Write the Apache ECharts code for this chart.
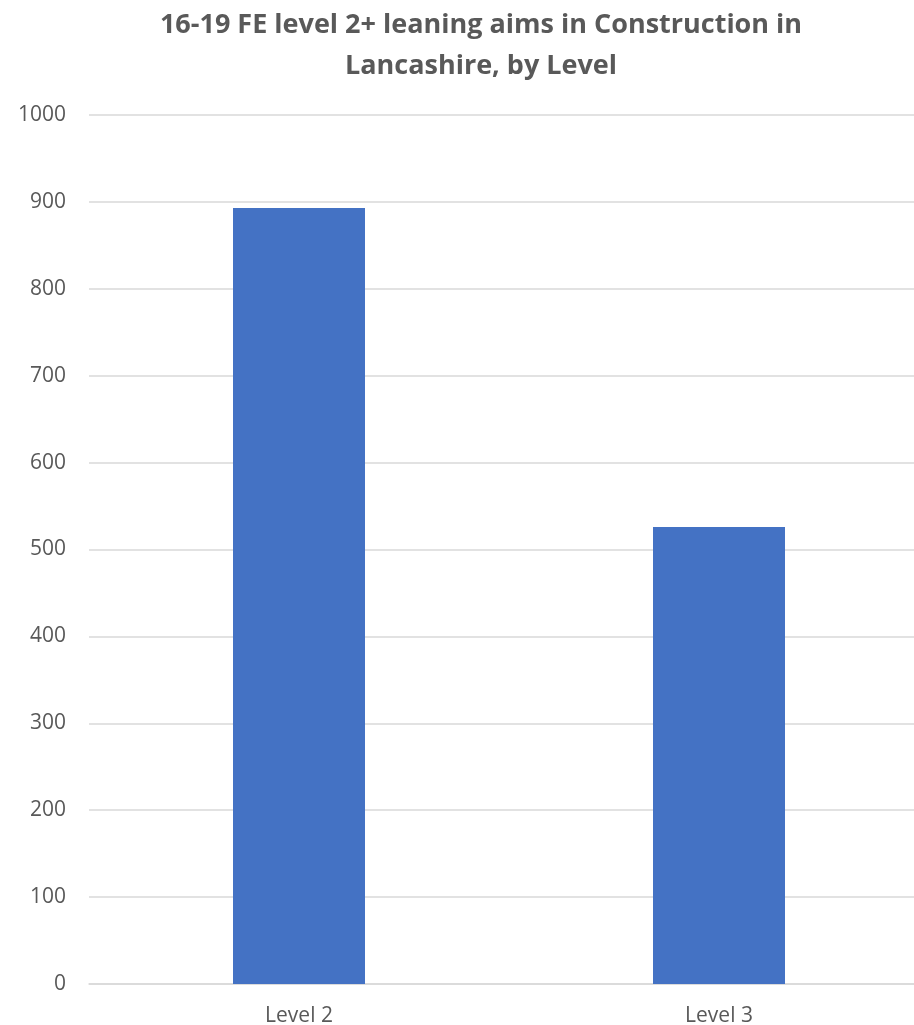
<!DOCTYPE html>
<html>
<head>
<meta charset="utf-8">
<script src="https://cdn.jsdelivr.net/npm/echarts@6/dist/echarts.min.js"></script>
<style>
html,body{margin:0;padding:0;background:#fff;overflow:hidden;}
#chart{width:914px;height:1025px;}
</style>
</head>
<body>
<div id="chart"></div>
<script>
const titleText = "16-19 FE level 2+ leaning aims in Construction in\nLancashire, by Level";
const categories = ["Level 2", "Level 3"];
const values = [893, 526];
const yMin = 0, yMax = 1000, yInterval = 100;

const chart = echarts.init(document.getElementById('chart'));
chart.setOption({
  animation: false,
  backgroundColor: '#ffffff',
  title: {
    text: titleText,
    left: 481,
    textAlign: 'center',
    top: 5,
    padding: 0,
    textStyle: {
      fontFamily: 'Open Sans',
      fontWeight: 'bold',
      fontSize: 27,
      color: '#595959',
      lineHeight: 41
    }
  },
  grid: { left: 89, width: 840, top: 115, bottom: 41, containLabel: false, outerBoundsMode: 'none' },
  xAxis: {
    type: 'category',
    data: categories,
    axisLine: { show: true, lineStyle: { color: '#d9d9d9', width: 1.5 } },
    axisTick: { show: false },
    axisLabel: { color: '#595959', fontSize: 21, fontFamily: 'Open Sans', margin: 22 },
    splitLine: { show: false }
  },
  yAxis: {
    type: 'value',
    min: yMin, max: yMax, interval: yInterval,
    axisLine: { show: false },
    axisTick: { show: false },
    axisLabel: { color: '#595959', fontSize: 21, fontFamily: 'Open Sans', margin: 23, formatter: v => String(v) },
    splitLine: { lineStyle: { color: '#d9d9d9', width: 1.5 } }
  },
  series: [{
    type: 'bar',
    data: values,
    barWidth: 132,
    itemStyle: { color: '#4472c4' }
  }]
});
</script>
</body>
</html>
